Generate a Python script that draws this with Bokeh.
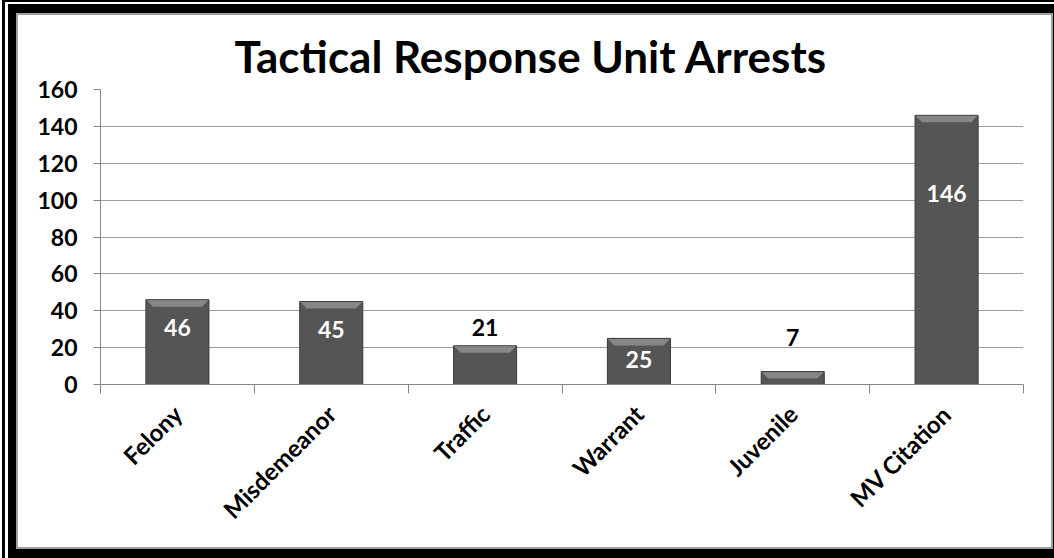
import math
from bokeh.plotting import figure
from bokeh.models import Range1d, FixedTicker, LabelSet, ColumnDataSource
from bokeh.core.properties import value
from bokeh.embed import file_html
from bokeh.resources import INLINE

# ---------------- data ----------------
categories = ["Felony", "Misdemeanor", "Traffic", "Warrant", "Juvenile", "MV Citation"]
arrests = [46, 45, 21, 25, 7, 146]
y_ticks = [0, 20, 40, 60, 80, 100, 120, 140, 160]
title_text = "Tactical Response Unit Arrests"

# ---------------- label styling (screen px from bar top, + = up) ----------------
label_dy = [-28, -28, 18, -21, 34, -78]
label_color = ["white", "white", "black", "white", "black", "white"]

W, H = 1054, 558
FONT = "Lato"
AXIS_GRAY = "#868686"
BAR_W = 0.41

centers = [i + 0.5 for i in range(len(categories))]

p = figure(width=W, height=H,
           x_range=Range1d(0, len(categories)), y_range=Range1d(0, 160),
           output_backend="svg", toolbar_location=None, tools="",
           min_border_left=100, min_border_right=31,
           min_border_top=89, min_border_bottom=174)

# picture frame drawn with inset shadows behind a transparent canvas border
frame_shadows = [
    "inset 2px 0 0 0 white",
    "inset 5px 0 0 0 black", "inset 0 2px 0 0 black",
    "inset 8px 0 0 0 white", "inset 0 4px 0 0 white",
    "inset 16px 0 0 0 black", "inset 0 13px 0 0 black",
    "inset -1px 0 0 0 black", "inset 0 -9px 0 0 black",
    "inset 18px 0 0 0 #a0a0a0", "inset 0 15px 0 0 #a0a0a0",
    "inset -3px 0 0 0 #a0a0a0", "inset 0 -11px 0 0 #a0a0a0",
]
p.styles = {"background-color": "white", "box-shadow": ", ".join(frame_shadows)}
p.border_fill_color = None
p.outline_line_color = None
p.background_fill_color = "white"

# ---------------- title ----------------
p.title.text = title_text
p.title.align = "left"
p.title.offset = 134
p.title.text_font = FONT
p.title.text_font_style = "bold"
p.title.text_font_size = "44px"
p.title.text_color = "black"
p.title.standoff = 15

# ---------------- bars (with a bevelled top) ----------------
p.vbar(x=centers, top=arrests, bottom=0, width=BAR_W,
       fill_color="#555555", line_color="#3a3a3a", line_width=1)
bev_h = 3.8      # bevel depth in y units
bev_d = 0.045    # bevel inset in x units
bev_xs, bev_ys = [], []
for c, v in zip(centers, arrests):
    h = min(bev_h, v * 0.6)
    bev_xs.append([c - BAR_W / 2 + 0.004, c + BAR_W / 2 - 0.004,
                   c + BAR_W / 2 - bev_d, c - BAR_W / 2 + bev_d])
    bev_ys.append([v - 0.3, v - 0.3, v - h, v - h])
p.patches(xs=bev_xs, ys=bev_ys, fill_color="#878787", line_color=None)

# ---------------- data labels ----------------
src = ColumnDataSource(dict(x=centers, y=arrests, text=[str(v) for v in arrests],
                            dy=label_dy, color=label_color))
labels = LabelSet(x="x", y="y", text="text", y_offset="dy", text_color="color",
                  source=src, text_align="center", text_baseline="middle",
                  text_font=value(FONT), text_font_style="bold",
                  text_font_size="23px")
p.add_layout(labels)

# ---------------- axes ----------------
xa = p.xaxis[0]
xa.ticker = FixedTicker(ticks=centers, minor_ticks=list(range(len(categories) + 1)))
xa.major_label_overrides = {c: name for c, name in zip(centers, categories)}
xa.major_tick_line_color = None
xa.minor_tick_line_color = AXIS_GRAY
xa.minor_tick_out = 9
xa.minor_tick_in = 0
xa.axis_line_color = AXIS_GRAY
xa.major_label_orientation = math.pi / 4
xa.major_label_text_font = FONT
xa.major_label_text_font_style = "bold"
xa.major_label_text_font_size = "24px"
xa.major_label_text_color = "black"
xa.major_label_standoff = 16

ya = p.yaxis[0]
ya.ticker = FixedTicker(ticks=y_ticks, minor_ticks=[])
ya.axis_line_color = AXIS_GRAY
ya.major_tick_line_color = AXIS_GRAY
ya.major_tick_out = 7
ya.major_tick_in = 0
ya.minor_tick_line_color = None
ya.major_label_standoff = 16
ya.major_label_text_font = FONT
ya.major_label_text_font_style = "bold"
ya.major_label_text_font_size = "23px"
ya.major_label_text_color = "black"

p.xgrid.visible = False
p.ygrid.ticker = FixedTicker(ticks=y_ticks)
p.ygrid.grid_line_color = "#9c9c9c"
p.ygrid.grid_line_width = 1

open("out.html", "w").write(file_html(p, INLINE))
